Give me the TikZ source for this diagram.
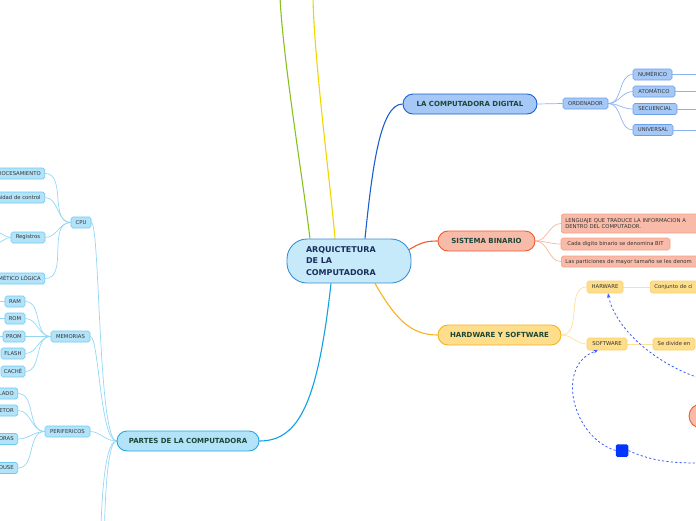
\documentclass[tikz,border=0pt]{standalone}
\usepackage{fontspec}
\setmainfont{DejaVu Sans}
\usetikzlibrary{arrows.meta,calc,backgrounds}
\definecolor{dline}{HTML}{1D5FD1}
\definecolor{dfill}{HTML}{A6C8F7}
\definecolor{dkidb}{HTML}{6C9EE6}
\definecolor{dkidl}{HTML}{8DB3EE}
\definecolor{bline}{HTML}{F05A2A}
\definecolor{bfill}{HTML}{F9BBA9}
\definecolor{bkidb}{HTML}{F6A183}
\definecolor{bkidl}{HTML}{F8B59E}
\definecolor{hline}{HTML}{F7B21F}
\definecolor{hfill}{HTML}{FEDD8B}
\definecolor{hkidb}{HTML}{FBCF6B}
\definecolor{hkidl}{HTML}{FDE09C}
\definecolor{pline}{HTML}{11A0E1}
\definecolor{pfill}{HTML}{B2E3F9}
\definecolor{pborder}{HTML}{25A7E3}
\definecolor{pkidb}{HTML}{6CCAF3}
\definecolor{pkidl}{HTML}{93D7F5}
\definecolor{cfill}{HTML}{C7EAFB}
\definecolor{cborder}{HTML}{3A8FD3}
\definecolor{ctext}{HTML}{1B2D5A}
\definecolor{maintext}{HTML}{1D4636}
\definecolor{smalltext}{HTML}{333333}
\definecolor{greenl}{HTML}{87C11F}
\definecolor{yellowl}{HTML}{EFD600}
\definecolor{dashc}{HTML}{3C5CF0}
\definecolor{sqc}{HTML}{0035FF}
\begin{document}
\begin{tikzpicture}[x=1pt,y=-1pt,
  cbox/.style={draw=cborder, fill=cfill, line width=0.9pt, rounded corners=20pt,
    minimum width=124pt, minimum height=44pt, inner sep=0pt, align=left, text width=86pt,
    font=\fontsize{8}{11.5}\selectfont\bfseries, text=ctext},
  mainbox/.style={line width=0.9pt, rounded corners=10pt, minimum height=20pt,
    inner sep=0pt, font=\fontsize{7}{8}\selectfont\bfseries, text=maintext},
  smallbox/.style={line width=0.6pt, rounded corners=1.8pt, minimum height=11pt,
    inner ysep=0pt, inner xsep=0pt, font=\fontsize{5.3}{6.5}\selectfont, text=smalltext},
  dkid/.style={smallbox, draw=dkidb, fill=dfill},
  bkid/.style={smallbox, draw=bkidb, fill=bfill},
  hkid/.style={smallbox, draw=hkidb, fill=hfill},
  pkid/.style={smallbox, draw=pkidb, fill=pfill},
  branchline/.style={line width=1.1pt},
  kidline/.style={line width=0.7pt},
  dashline/.style={draw=dashc, line width=0.8pt, dash pattern=on 2.2pt off 2.2pt,
    -{Stealth[length=4.5pt,width=3.5pt]}},
  dashplain/.style={draw=dashc, line width=0.8pt, dash pattern=on 2.2pt off 2.2pt}
]
\useasboundingbox (0,0) rectangle (696,520);
\clip (0,0) rectangle (696,520);

% central
\node[cbox] (c) at (349,261) {ARQUICTETURA\\DE LA\\COMPUTADORA};

% LA COMPUTADORA DIGITAL
\node[mainbox, draw=dline, fill=dfill, minimum width=134pt] (d) at (470,104) {LA COMPUTADORA DIGITAL};
\node[dkid, minimum width=45pt] (ord) at (585.5,103.5) {ORDENADOR};
\node[dkid, minimum width=39pt] (num) at (652.5,74.5) {NUMÉRICO};
\node[dkid, minimum width=42pt] (ato) at (654,91.5) {ATOMÁTICO};
\node[dkid, minimum width=44pt] (sec) at (655,109) {SECUENCIAL};
\node[dkid, minimum width=40pt] (uni) at (653,130) {UNIVERSAL};
\coordinate (numr) at (700,74.5);
\coordinate (ator) at (700,91.5);
\coordinate (secr) at (700,109);
\coordinate (unir) at (700,130);

% SISTEMA BINARIO
\node[mainbox, draw=bline, fill=bfill, minimum width=97pt] (b) at (486.5,241) {SISTEMA BINARIO};
\node[bkid, anchor=west, minimum height=19pt, text width=160pt, inner xsep=4pt, align=left] (leng) at (561,223.5)
  {LENGUAJE QUE TRADUCE LA INFORMACION A\\DENTRO DEL COMPUTADOR.};
\node[bkid, minimum width=109pt, minimum height=12pt] (cada) at (615.5,244) {Cada digito binario se denomina BIT};
\node[bkid, anchor=west, text width=160pt, inner xsep=4pt, align=left] (part) at (561,261.5)
  {Las particiones de mayor tamaño se les denom};

% HARDWARE Y SOFTWARE
\node[mainbox, draw=hline, fill=hfill, minimum width=123pt] (h) at (499.5,335) {HARDWARE Y SOFTWARE};
\node[hkid, minimum width=36pt, minimum height=12pt] (hwa) at (605,287) {HARWARE};
\node[hkid, anchor=west, minimum height=12pt, text width=60pt, inner xsep=4pt, align=left] (conj) at (650,287) {Conjunto de ci};
\node[hkid, minimum width=40pt, minimum height=12pt] (sw) at (607,344) {SOFTWARE};
\node[hkid, minimum width=42pt, minimum height=12pt] (div) at (674,344) {Se divide en};

% extra shapes
\node[fill=sqc, rounded corners=1.5pt, minimum size=12.5pt, inner sep=0pt] (sq) at (622,450.5) {};
\node[circle, draw=bline, fill=bfill, line width=0.9pt, minimum size=24pt, inner sep=0pt] (oc) at (701,416) {};
\coordinate (dstart) at (702,379);
\coordinate (sqend) at (702,463);

% PARTES DE LA COMPUTADORA
\node[mainbox, draw=pborder, fill=pfill, minimum width=142pt] (p) at (188,441) {PARTES DE LA COMPUTADORA};
\node[pkid, minimum width=20pt] (cpu) at (81,222.5) {CPU};
\node[pkid, minimum width=39pt] (mem) at (70.5,336.5) {MEMORIAS};
\node[pkid, minimum width=45pt] (per) at (67.5,431.5) {PERIFERICOS};
\coordinate (pdown1) at (101,525);
\coordinate (pdown2) at (104.5,525);

\node[pkid, anchor=east, inner xsep=4pt] (proc) at (45,173.5) {PROCESAMIENTO};
\node[pkid, anchor=east, inner xsep=4pt] (ctrl) at (45,197.5) {Unidad de control};
\node[pkid, minimum width=34pt] (reg) at (28,237.5) {Registros};
\node[pkid, anchor=east, inner xsep=4pt] (alu) at (45,278.5) {ARITMÉTICO LÓGICA};
\coordinate (rega) at (-4,232);
\coordinate (regb) at (-4,243);

\node[pkid, minimum width=20pt] (ram) at (15,301.5) {RAM};
\node[pkid, minimum width=20pt] (rom) at (15,318.5) {ROM};
\node[pkid, minimum width=22pt] (prom) at (14,336.5) {PROM};
\node[pkid, minimum width=24pt] (flash) at (13,353.5) {FLASH};
\node[pkid, minimum width=24pt] (cache) at (13,371.5) {CACHÉ};
\coordinate (raml) at (-4,301.5);
\coordinate (roml) at (-4,318.5);
\coordinate (proml) at (-4,336.5);

\node[pkid, anchor=east, inner xsep=4pt] (tec) at (18,393.5) {TECLADO};
\node[pkid, anchor=east, inner xsep=4pt] (proy) at (18,410.5) {PROYETOR};
\node[pkid, anchor=east, inner xsep=4pt] (imp) at (18,439) {IMPRESORAS};
\node[pkid, anchor=east, inner xsep=4pt] (mou) at (18,468) {MOUSE};

\coordinate (gend) at (280,-3);
\coordinate (yend) at (313,-3);

\begin{scope}[on background layer]
  % main branches
  \draw[branchline, greenl] ($(c.north)+(-39,0)$) .. controls (303,180) and (283,60) .. (gend);
  \draw[branchline, yellowl] ($(c.north)+(-14,0)$) .. controls (330,180) and (314,60) .. (yend);
  \draw[branchline, dline] ($(c.north)+(16,0)$) .. controls (372,170) and (380,104) .. (d.west);
  \draw[branchline, bline] ($(c.east)+(-3,-11)$) .. controls (420,243) and (425,241) .. (b.west);
  \draw[branchline, hline] ($(c.south)+(26,0)$) .. controls (395,318) and (410,335) .. (h.west);
  \draw[branchline, pline] ($(c.south)+(-18,0)$) .. controls (318,400) and (300,441) .. (p.east);
  % digital
  \draw[kidline, dkidl] (d.east) -- (ord.west);
  \foreach \k in {num,ato,sec,uni} \draw[kidline, dkidl] (ord.east) to[out=0,in=180] (\k.west);
  \draw[kidline, dkidl] (num.east) -- (numr);
  \draw[kidline, dkidl] (ato.east) -- (ator);
  \draw[kidline, dkidl] (sec.east) -- (secr);
  \draw[kidline, dkidl] (uni.east) -- (unir);
  % binario
  \foreach \k in {leng,cada,part} \draw[kidline, bkidl] (b.east) to[out=0,in=180] (\k.west);
  % hardware
  \foreach \k in {hwa,sw} \draw[kidline, hkidl] (h.east) to[out=0,in=180] (\k.west);
  \draw[kidline, hkidl] (hwa.east) -- (conj.west);
  \draw[kidline, hkidl] (sw.east) -- (div.west);
  % partes
  \draw[kidline, pkidl] (cpu.east) .. controls (100,222.5) and (98,441) .. (p.west);
  \draw[kidline, pkidl] (mem.east) .. controls (99,336.5) and (100,441) .. (p.west);
  \draw[kidline, pkidl] (per.east) .. controls (100,431.5) and (105,441) .. (p.west);
  \draw[kidline, pkidl] (p.west) .. controls (108,441) and (103,470) .. (pdown1);
  \draw[kidline, pkidl] (p.west) .. controls (110,441) and (106,470) .. (pdown2);
  \foreach \k in {proc,ctrl,reg,alu} \draw[kidline, pkidl] (cpu.west) to[out=180,in=0] (\k.east);
  \draw[kidline, pkidl] (reg.west) to[out=180,in=0] (rega);
  \draw[kidline, pkidl] (reg.west) to[out=180,in=0] (regb);
  \foreach \k in {ram,rom,prom,flash,cache} \draw[kidline, pkidl] (mem.west) to[out=180,in=0] (\k.east);
  \draw[kidline, pkidl] (ram.west) -- (raml);
  \draw[kidline, pkidl] (rom.west) -- (roml);
  \draw[kidline, pkidl] (prom.west) -- (proml);
  \foreach \k in {tec,proy,imp,mou} \draw[kidline, pkidl] (per.west) to[out=180,in=0] (\k.east);
\end{scope}

% dashed relations
\draw[dashline] (dstart) .. controls (650,362) and (614,325) .. ($(hwa.south)+(3,0)$);
\draw[dashline] (sq.west) .. controls (572,437) and (555,365) .. ($(sw.south)+(-9,0)$);
\draw[dashplain] (sq.east) .. controls (655,463) and (680,463) .. (sqend);
\end{tikzpicture}
\end{document}
